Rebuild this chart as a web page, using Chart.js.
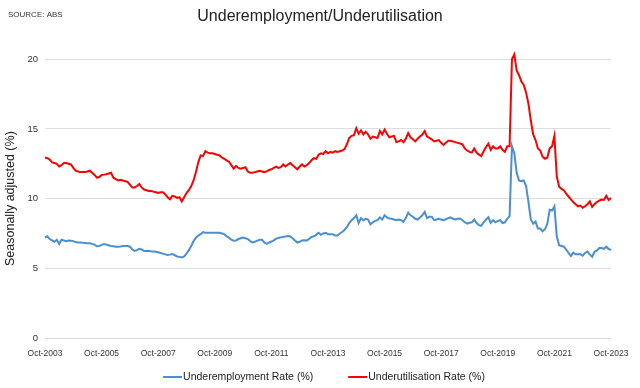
<!DOCTYPE html>
<html>
<head>
<meta charset="utf-8">
<script src="https://cdn.jsdelivr.net/npm/chart.js@4.4.0/dist/chart.umd.min.js"></script>
<style>
  body { margin: 0; background: #fff; }
  #wrap { position: relative; width: 640px; height: 388px; }
</style>
</head>
<body>
<div id="wrap"><canvas id="uuChart" width="640" height="388"></canvas></div>
<script>
// monthly ABS series, Oct-2003 .. Oct-2023 (seasonally adjusted, %)
const startYear = 2003;
const tickLabels = ['Oct-2003', 'Oct-2005', 'Oct-2007', 'Oct-2009', 'Oct-2011', 'Oct-2013',
                    'Oct-2015', 'Oct-2017', 'Oct-2019', 'Oct-2021', 'Oct-2023'];
const yTicks = [0, 5, 10, 15, 20];

const underemployment = [
  7.2, 7.3, 7.1, 7.0, 6.9, 7.05, 6.75, 7.05, 7.0, 6.95, 7.0, 6.98,
  6.95, 6.88, 6.85, 6.85, 6.83, 6.82, 6.8, 6.8, 6.75, 6.7, 6.58, 6.6,
  6.68, 6.74, 6.7, 6.65, 6.6, 6.58, 6.55, 6.55, 6.57, 6.6, 6.6, 6.6,
  6.55, 6.35, 6.25, 6.3, 6.4, 6.35, 6.25, 6.25, 6.25, 6.22, 6.2, 6.18,
  6.15, 6.1, 6.05, 6.0, 5.95, 5.98, 6.02, 5.95, 5.85, 5.82, 5.78, 5.85,
  6.05, 6.3, 6.6, 6.95, 7.2, 7.35, 7.45, 7.6, 7.55, 7.55, 7.55, 7.55,
  7.55, 7.55, 7.55, 7.5, 7.45, 7.3, 7.2, 7.05, 6.98, 7.0, 7.1, 7.15,
  7.2, 7.15, 7.1, 6.95, 6.85, 6.9, 6.98, 7.05, 7.05, 6.85, 6.75, 6.85,
  6.92, 7.0, 7.12, 7.18, 7.22, 7.26, 7.28, 7.32, 7.28, 7.15, 7.0, 6.85,
  6.9, 7.0, 7.02, 7.0, 7.1, 7.25, 7.3, 7.4, 7.55, 7.4, 7.5, 7.55,
  7.45, 7.45, 7.45, 7.35, 7.35, 7.5, 7.6, 7.75, 7.95, 8.25, 8.45, 8.6,
  8.8, 8.25, 8.6, 8.45, 8.55, 8.5, 8.15, 8.3, 8.4, 8.45, 8.65, 8.5,
  8.8, 8.65, 8.57, 8.55, 8.5, 8.45, 8.5, 8.45, 8.33, 8.6, 9.0, 8.8,
  8.7, 8.55, 8.5, 8.65, 8.8, 9.05, 8.6, 8.7, 8.7, 8.45, 8.5, 8.55,
  8.5, 8.45, 8.52, 8.6, 8.65, 8.55, 8.5, 8.55, 8.57, 8.45, 8.3, 8.2,
  8.27, 8.3, 8.5, 8.25, 8.1, 8.05, 8.3, 8.5, 8.66, 8.26, 8.45, 8.3,
  8.4, 8.45, 8.25, 8.3, 8.55, 8.75, 13.75, 13.25, 11.85, 11.3, 11.25, 11.3,
  10.9, 9.75, 8.5, 8.2, 8.35, 7.85, 7.85, 7.65, 7.8, 8.2, 9.2, 9.15,
  9.45, 7.3, 6.65, 6.6, 6.55, 6.35, 6.1, 5.88, 6.12, 6.0, 6.0, 6.02,
  5.9, 6.1, 6.2, 6.0, 5.83, 6.19, 6.26, 6.45, 6.45, 6.4, 6.55, 6.38,
  6.32
];

const underutilisation = [
  12.95, 12.9, 12.8, 12.6, 12.55, 12.5, 12.3, 12.4, 12.55, 12.55, 12.5, 12.45,
  12.2, 12.0, 11.95, 11.9, 11.9, 11.9, 11.95, 12.0, 11.85, 11.7, 11.5, 11.55,
  11.7, 11.72, 11.75, 11.8, 11.85, 11.5, 11.4, 11.3, 11.35, 11.3, 11.25, 11.2,
  11.0, 10.8, 10.8, 10.9, 11.05, 10.8, 10.65, 10.6, 10.55, 10.55, 10.5, 10.45,
  10.4, 10.45, 10.45, 10.3, 10.1, 9.95, 10.2, 10.15, 10.05, 10.1, 9.8, 10.1,
  10.4, 10.6, 10.9, 11.3, 11.9, 12.6, 13.1, 13.05, 13.4, 13.3, 13.25, 13.25,
  13.2, 13.15, 13.1, 12.95, 12.85, 12.75, 12.65, 12.4, 12.15, 12.35, 12.2, 12.15,
  12.2, 12.25, 11.95, 11.85, 11.85, 11.9, 11.95, 12.0, 11.95, 11.9, 11.95, 12.05,
  12.1, 12.2, 12.3, 12.2, 12.25, 12.45, 12.3, 12.45, 12.55, 12.4, 12.25, 12.1,
  12.3, 12.45, 12.3, 12.4, 12.55, 12.75, 12.9, 12.85, 13.15, 13.25, 13.2, 13.4,
  13.25, 13.35, 13.3, 13.4, 13.35, 13.4, 13.45, 13.55, 13.9, 14.35, 14.5, 14.55,
  15.05, 14.65, 14.9, 14.6, 14.8, 14.6, 14.3, 14.45, 14.4, 14.35, 14.85, 14.6,
  14.95, 14.65, 14.4, 14.45, 14.5, 14.05, 14.1, 14.2, 14.05, 14.3, 14.7, 14.4,
  14.25, 14.1, 14.3, 14.45, 14.6, 14.85, 14.45, 14.35, 14.25, 14.1, 14.15, 14.2,
  14.0, 13.85, 14.0, 14.15, 14.15, 14.1, 14.05, 14.0, 13.95, 13.9, 13.6, 13.45,
  13.35, 13.3, 13.6, 13.3, 13.15, 13.05, 13.4, 13.7, 13.95, 13.5, 13.75, 13.6,
  13.6, 13.75, 13.5, 13.35, 13.75, 13.75, 20.0, 20.35, 19.2, 18.85, 18.4, 18.15,
  17.6, 16.8, 15.6, 14.6, 14.2, 13.6, 13.45, 13.0, 12.85, 12.95, 13.6, 13.75,
  14.5, 11.6, 10.85, 10.7, 10.6, 10.35, 10.15, 9.95, 9.75, 9.6, 9.45, 9.5,
  9.35, 9.45, 9.6, 9.8, 9.4, 9.6, 9.75, 9.85, 9.93, 9.9, 10.2, 9.9,
  10.05
];

const seriesNames = ['Underemployment Rate (%)', 'Underutilisation Rate (%)'];
const seriesColors = ['#4a8fd3', '#ff0000'];

// month labels Oct-2003 .. Oct-2023
const monthNames = ['Jan','Feb','Mar','Apr','May','Jun','Jul','Aug','Sep','Oct','Nov','Dec'];
const months = underemployment.map((_, i) => {
  const m = 9 + i;
  return monthNames[m % 12] + '-' + (startYear + Math.floor(m / 12));
});

const FONT = "'Liberation Sans', Arial, sans-serif";

// SOURCE line and line-style legend under the plot
const extras = {
  id: 'extras',
  afterDraw(chart) {
    const ctx = chart.ctx;
    ctx.save();
    ctx.fillStyle = '#333';
    ctx.font = '8px ' + FONT;
    ctx.textBaseline = 'alphabetic';
    ctx.textAlign = 'left';
    ctx.fillText('SOURCE: ABS', 8, 17);

    ctx.font = '10.5px ' + FONT;
    ctx.textBaseline = 'middle';
    const lineW = 19, gap = 35, y = 377;
    const widths = chart.data.datasets.map(d => lineW + 1 + ctx.measureText(d.label).width);
    let x = 324 - (widths.reduce((a, b) => a + b, 0) + gap) / 2;
    chart.data.datasets.forEach((d, i) => {
      ctx.strokeStyle = d.borderColor;
      ctx.lineWidth = 2;
      ctx.beginPath();
      ctx.moveTo(x, y);
      ctx.lineTo(x + lineW, y);
      ctx.stroke();
      ctx.fillStyle = '#222';
      ctx.fillText(d.label, x + lineW + 1, y);
      x += widths[i] + gap;
    });
    ctx.restore();
  }
};

const ctx = document.getElementById('uuChart').getContext('2d');
new Chart(ctx, {
  type: 'line',
  data: {
    labels: months,
    datasets: [
      { label: seriesNames[0], data: underemployment, borderColor: seriesColors[0], backgroundColor: seriesColors[0] },
      { label: seriesNames[1], data: underutilisation, borderColor: seriesColors[1], backgroundColor: seriesColors[1] }
    ]
  },
  options: {
    responsive: false,
    animation: false,
    devicePixelRatio: 1,
    layout: { padding: { left: 0, right: 0, top: 0, bottom: 22 } },
    elements: {
      point: { radius: 0 },
      line: { borderWidth: 2, tension: 0 }
    },
    datasets: { line: { clip: 10 } },
    scales: {
      x: {
        type: 'category',
        offset: false,
        grid: { display: false },
        border: { display: false },
        ticks: {
          autoSkip: false,
          maxRotation: 0,
          minRotation: 0,
          padding: 3,
          color: '#333',
          font: { family: FONT, size: 8.5 },
          callback: (v, i) => (i % 24 === 0 ? tickLabels[i / 24] : '')
        },
        afterFit: s => { s.height = 28; }
      },
      y: {
        min: yTicks[0],
        max: yTicks[yTicks.length - 1],
        afterBuildTicks: s => { s.ticks = yTicks.map(v => ({ value: v })); },
        grid: { color: '#dedede', drawTicks: false, lineWidth: 1 },
        border: { display: false },
        ticks: { padding: 7, color: '#333', font: { family: FONT, size: 9.5 } },
        title: {
          display: true,
          text: 'Seasonally adjusted (%)',
          color: '#222',
          font: { family: FONT, size: 12.5 },
          padding: { top: 3, bottom: 0 }
        },
        afterFit: s => { s.width = 45; }
      },
      // empty right-hand strip so the plot ends at Oct-2023 while the title stays centred
      yRight: {
        position: 'right',
        display: true,
        grid: { display: false },
        border: { display: false },
        ticks: { display: false },
        afterFit: s => { s.width = 29; }
      }
    },
    plugins: {
      legend: { display: false },
      tooltip: { enabled: false },
      title: {
        display: true,
        text: 'Underemployment/Underutilisation',
        color: '#222',
        font: { family: FONT, size: 16, weight: 'normal' },
        padding: { top: 7, bottom: 33 }
      }
    }
  },
  plugins: [extras]
});
</script>
</body>
</html>
